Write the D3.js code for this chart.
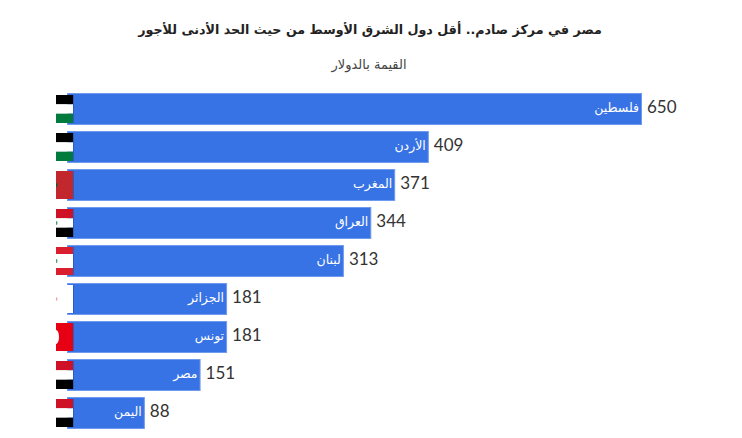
<!DOCTYPE html>
<html lang="ar">
<head>
<meta charset="utf-8">
<script src="https://cdnjs.cloudflare.com/ajax/libs/d3/7.8.5/d3.min.js"></script>
<style>
html, body { margin: 0; padding: 0; background: #fff; overflow: hidden; }
</style>
</head>
<body>
<div id="chart"></div>
<script>
const titleText = 'مصر في مركز صادم.. أقل دول الشرق الأوسط من حيث الحد الأدنى للأجور';
const subtitleText = 'القيمة بالدولار';
const countries = ['فلسطين', 'الأردن', 'المغرب', 'العراق', 'لبنان', 'الجزائر', 'تونس', 'مصر', 'اليمن'];
const wages = [650, 409, 371, 344, 313, 181, 181, 151, 88];
// flag stripes top to bottom, every stripe with its share of the flag height
const flagStripes = [
    [['#000000', 1], ['#ffffff', 1], ['#007a3d', 1]],
    [['#000000', 1], ['#ffffff', 1], ['#007a3d', 1]],
    [['#c1272d', 1]],
    [['#ce1126', 1], ['#ffffff', 1], ['#000000', 1]],
    [['#d91f2d', 1], ['#ffffff', 2], ['#d91f2d', 1]],
    [['#ffffff', 1]],
    [['#e70013', 1]],
    [['#ce1126', 1], ['#ffffff', 1], ['#000000', 1]],
    [['#ce1126', 1], ['#ffffff', 1], ['#000000', 1]]
];
// the bit of the emblem still showing at the cut off left side of each flag
const flagEmblems = ['', '', '#006233', '#3f9c6b', '#3f9c6b', '#f2a6b0', '#ffffff', '', ''];

const width = 742, height = 438;
const svg = d3.select('#chart').append('svg')
    .attr('width', width)
    .attr('height', height)
    .style('display', 'block');

const x = d3.scaleLinear().domain([0, 650]).range([67, 642]);
const y = d3.scaleBand().domain(countries).range([93, 429]).paddingInner(6 / 38);

// direction rtl flips the anchor, start means the right end of the text
svg.append('text')
    .text(titleText)
    .attr('x', 370)
    .attr('y', 34)
    .attr('text-anchor', 'middle')
    .attr('direction', 'rtl')
    .attr('font-family', 'DejaVu Sans, sans-serif')
    .attr('font-weight', 'bold')
    .attr('font-size', 12.7)
    .attr('fill', '#222');

svg.append('text')
    .text(subtitleText)
    .attr('x', 369)
    .attr('y', 69)
    .attr('text-anchor', 'middle')
    .attr('direction', 'rtl')
    .attr('font-family', 'DejaVu Sans, sans-serif')
    .attr('font-size', 13)
    .attr('fill', '#444');

const rows = svg.selectAll('g.row')
    .data(countries)
    .enter().append('g')
    .attr('class', 'row')
    .attr('transform', d => `translate(0,${y(d)})`);

rows.append('rect')
    .attr('x', x(0) + 0.5)
    .attr('y', 0.5)
    .attr('width', (d, i) => x(wages[i]) - x(0) - 1)
    .attr('height', y.bandwidth() - 1)
    .attr('fill', '#3873e6')
    .attr('stroke', '#6f9bee');

rows.append('text')
    .text(d => d)
    .attr('x', (d, i) => x(wages[i]) - 3)
    .attr('y', y.bandwidth() / 2 + 2.5)
    .attr('text-anchor', 'start')
    .attr('direction', 'rtl')
    .attr('font-family', 'DejaVu Sans, sans-serif')
    .attr('font-size', 12.5)
    .attr('fill', '#fff');

rows.append('text')
    .text((d, i) => wages[i])
    .attr('x', (d, i) => x(wages[i]) + 5)
    .attr('y', y.bandwidth() / 2 + 3.5)
    .attr('font-family', 'Lato, sans-serif')
    .attr('font-size', 17)
    .attr('fill', '#333');

// flags sit over the start of the bars
const flagX = 56, flagW = 17, flagH = 28, flagTop = 2;

svg.append('clipPath')
    .attr('id', 'flag-clip')
    .append('rect')
    .attr('x', flagX)
    .attr('y', flagTop)
    .attr('width', flagW)
    .attr('height', flagH);

rows.each(function(d, i) {
    let row = d3.select(this);
    let stripes = flagStripes[i];
    let flagY = d3.scaleLinear()
        .domain([0, d3.sum(stripes, s => s[1])])
        .range([flagTop, flagTop + flagH]);
    let used = 0;
    stripes.forEach(s => {
        row.append('rect')
            .attr('x', flagX)
            .attr('y', flagY(used))
            .attr('width', flagW)
            .attr('height', flagY(used + s[1]) - flagY(used))
            .attr('fill', s[0]);
        used += s[1];
    });
    if (flagEmblems[i]) {
        row.append('ellipse')
            .attr('clip-path', 'url(#flag-clip)')
            .attr('cx', flagX)
            .attr('cy', flagTop + flagH / 2)
            .attr('rx', i === 6 ? 3 : 1.5)
            .attr('ry', i === 6 ? 7 : 2)
            .attr('fill', flagEmblems[i]);
    }
    row.append('line')
        .attr('x1', flagX + flagW + 0.5)
        .attr('x2', flagX + flagW + 0.5)
        .attr('y1', flagTop)
        .attr('y2', flagTop + flagH)
        .attr('stroke', '#1f4fa8')
        .attr('stroke-opacity', 0.6);
});
</script>
</body>
</html>
